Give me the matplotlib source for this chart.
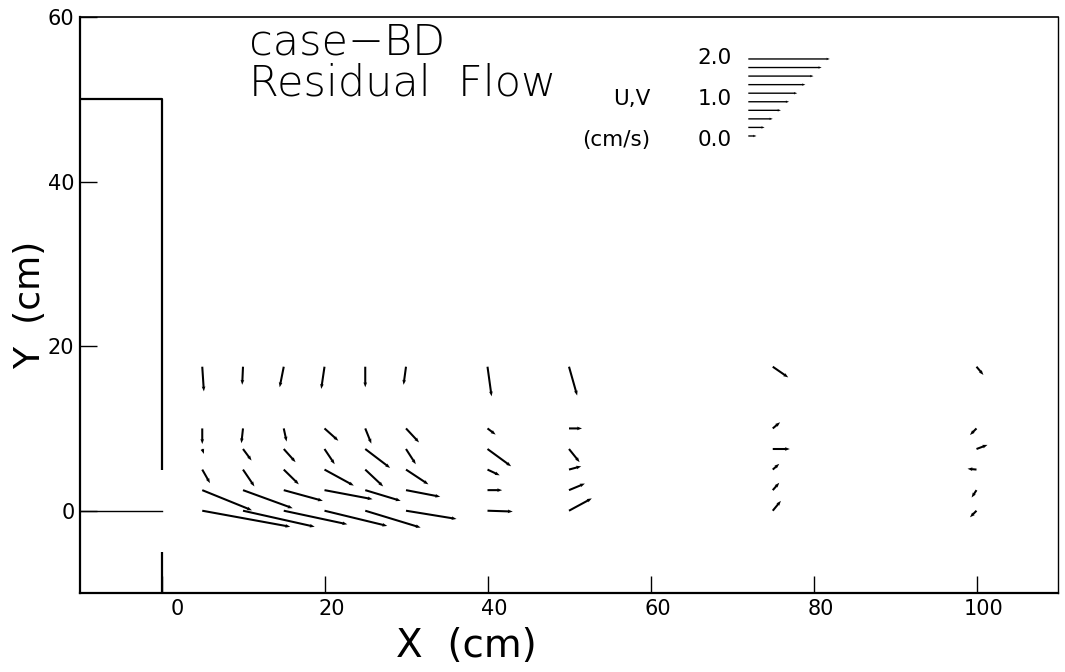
import matplotlib
matplotlib.use("Agg")
import matplotlib.pyplot as plt
import numpy as np
from matplotlib.transforms import ScaledTranslation

# ---- data (cm/s) ----
x_cols = [5, 10, 15, 20, 25, 30, 40, 50, 75, 100]
y_rows = [17.5, 10, 7.5, 5, 2.5, 0]

U = [
    [0.04, -0.02, -0.10, -0.08, 0.00, -0.06, 0.10, 0.20, 0.38, 0.17],
    [0.00, -0.04, 0.07, 0.34, 0.15, 0.32, 0.20, 0.32, 0.18, -0.16],
    [0.04, 0.21, 0.29, 0.25, 0.61, 0.24, 0.58, 0.26, 0.42, 0.27],
    [0.19, 0.28, 0.37, 0.72, 0.44, 0.55, 0.30, 0.30, 0.16, -0.22],
    [1.22, 1.22, 0.96, 1.18, 0.87, 0.84, 0.36, 0.39, 0.16, -0.12],
    [2.16, 1.76, 1.56, 1.54, 1.36, 1.24, 0.62, 0.56, 0.20, -0.16],
]
V = [
    [-0.60, -0.44, -0.50, -0.54, -0.50, -0.44, -0.72, -0.70, -0.26, -0.20],
    [-0.38, -0.36, -0.32, -0.30, -0.37, -0.34, -0.15, 0.00, 0.15, -0.16],
    [-0.12, -0.28, -0.32, -0.37, -0.46, -0.37, -0.42, -0.32, 0.00, 0.10],
    [-0.33, -0.41, -0.36, -0.39, -0.41, -0.36, -0.14, 0.08, 0.14, 0.02],
    [-0.49, -0.44, -0.26, -0.22, -0.26, -0.16, 0.00, 0.16, 0.18, -0.18],
    [-0.39, -0.39, -0.33, -0.37, -0.41, -0.20, -0.02, 0.30, 0.24, -0.16],
]

legend_speeds = [2.0, 1.8, 1.6, 1.4, 1.2, 1.0, 0.8, 0.6, 0.4, 0.2]
legend_values = ["2.0", "1.0", "0.0"]
x_ticks = [0, 20, 40, 60, 80, 100]
y_ticks = [0, 20, 40, 60]

# ---- figure ----
fig = plt.figure(figsize=(10.65, 6.72), dpi=100)
ax = fig.add_axes([80 / 1065, 79 / 672, 978 / 1065, 576 / 672])
ax.set_xlim(-10, 110)
ax.set_ylim(-10, 60)

# geometry (walls)
ax.plot([-10, 0, 0], [50, 50, 5], color="black", lw=1.6, solid_capstyle="butt")
ax.plot([0, 0], [-5, -10], color="black", lw=1.6, solid_capstyle="butt")
ax.plot([-10, 0], [0, 0], color="black", lw=1.0)

# vectors
X, Y = np.meshgrid(x_cols, y_rows)
ax.quiver(X, Y, np.array(U), np.array(V), angles="xy", scale_units="xy",
          scale=0.2, pivot="tail", color="black", width=0.0021,
          headwidth=1.8, headlength=2.4, headaxislength=2.2, zorder=3)

# legend scale vectors
n = len(legend_speeds)
ly = [54.9 - i * 1.04 for i in range(n)]
ax.quiver([72.0] * n, ly, legend_speeds, [0.0] * n, angles="xy",
          scale_units="xy", scale=0.2, pivot="tail", color="black",
          width=0.0014, headwidth=1.8, headlength=2.4, headaxislength=2.2)

lfs = 15.5
ax.text(70, 55, legend_values[0], ha="right", va="center", fontsize=lfs)
ax.text(70, 50, legend_values[1], ha="right", va="center", fontsize=lfs)
ax.text(70, 45, legend_values[2], ha="right", va="center", fontsize=lfs)
ax.text(60, 50, "U,V", ha="right", va="center", fontsize=lfs)
ax.text(60, 45, "(cm/s)", ha="right", va="center", fontsize=lfs)

# title text
ax.text(10.7, 55.4, "case\u2212BD", ha="left", va="baseline", fontsize=31,
        fontweight=200)
ax.text(10.7, 50.5, "Residual  Flow", ha="left", va="baseline", fontsize=31,
        fontweight=200)

# axes styling
for s in ax.spines.values():
    s.set_linewidth(1.6)
ax.spines["right"].set_linewidth(1.0)
ax.spines["top"].set_linewidth(1.2)
ax.set_xticks(x_ticks)
ax.set_yticks(y_ticks)
ax.set_xticklabels([str(t) for t in x_ticks])
ax.set_yticklabels([str(t) for t in y_ticks])
ax.tick_params(direction="in", length=12, width=1.0, labelsize=15)
ax.tick_params(axis="x", pad=4)
ax.tick_params(axis="y", pad=4)

for i, tick in enumerate(ax.xaxis.get_major_ticks()):
    dx = 16 if i == 0 else 7
    tick.label1.set_transform(tick.label1.get_transform() +
                              ScaledTranslation(dx / 100, 0, fig.dpi_scale_trans))

fig.text(466 / 1065, 1 - 646 / 672, "X  (cm)", ha="center", va="center", fontsize=28)
fig.text(30 / 1065, 1 - 305 / 672, "Y  (cm)", ha="center", va="center",
         fontsize=26, rotation=90)

fig.savefig("out.png", dpi=100)
